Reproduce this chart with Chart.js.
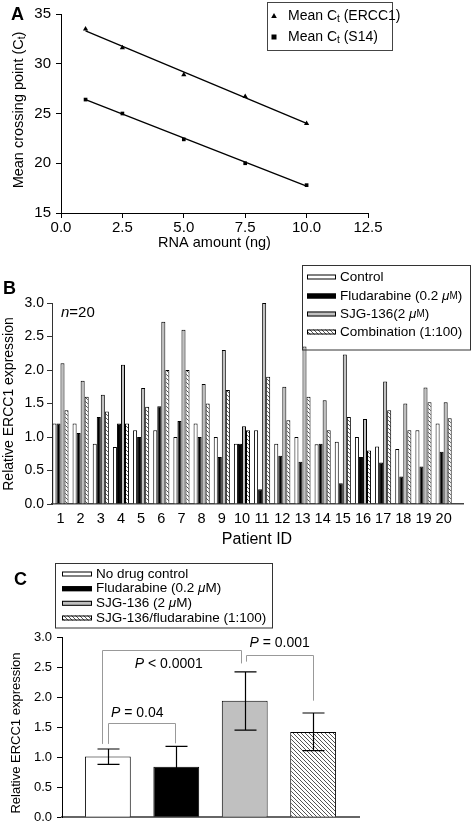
<!DOCTYPE html>
<html>
<head>
<meta charset="utf-8">
<script src="https://cdn.jsdelivr.net/npm/chart.js@4/dist/chart.umd.min.js"></script>
<style>
  body { margin: 0; background: #fff; }
  #wrap { position: relative; width: 472px; height: 830px; }
  canvas { position: absolute; left: 0; top: 0; }
</style>
</head>
<body>
<div id="wrap">
  <canvas id="chartA" width="472" height="830"></canvas>
  <canvas id="chartB" width="472" height="830"></canvas>
  <canvas id="chartC" width="472" height="830"></canvas>
</div>
<script>
// panel A - standard curves
const rnaAmounts = [1, 2.5, 5, 7.5, 10];
const ctErcc1 = [33.5, 31.6, 28.9, 26.7, 24.0];
const ctS14 = [26.4, 25.0, 22.4, 20.0, 17.8];
const fitX = [1, 10];
const fitErcc1 = [33.3, 24.0];
const fitS14 = [26.4, 17.7];

// panel B - per patient expression
const patients = [1, 2, 3, 4, 5, 6, 7, 8, 9, 10, 11, 12, 13, 14, 15, 16, 17, 18, 19, 20];
const control = [1.2, 1.2, 0.9, 0.85, 1.1, 1.1, 1.0, 1.2, 1.0, 0.9, 1.1, 0.9, 1.0, 0.89, 0.93, 1.0, 0.86, 0.82, 1.1, 1.2];
const fludarabine = [1.2, 1.06, 1.3, 1.2, 1.0, 1.46, 1.24, 1.0, 0.7, 0.9, 0.22, 0.72, 0.63, 0.9, 0.31, 0.7, 0.62, 0.41, 0.56, 0.78];
const sjg136 = [2.1, 1.84, 1.63, 2.08, 1.73, 2.72, 2.6, 1.79, 2.3, 1.16, 3.0, 1.75, 2.35, 1.55, 2.23, 1.27, 1.83, 1.5, 1.74, 1.52];
const combination = [1.4, 1.6, 1.38, 1.2, 1.45, 2.0, 2.0, 1.5, 1.7, 1.1, 1.9, 1.25, 1.6, 1.1, 1.3, 0.8, 1.4, 1.1, 1.52, 1.28];

// panel C - means with error bars
const groupsC = [1, 2, 3, 4];
const meanC = [1.01, 0.84, 1.94, 1.42];
const errLowC = [0.88, 0.5, 1.45, 1.11];
const errHighC = [1.135, 1.18, 2.42, 1.735];

const FF = '"Liberation Sans", Arial, Helvetica, sans-serif';
const font = (size, style) => `${style || ''} ${size}px ${FF}`;
Chart.defaults.font.family = FF;
Chart.defaults.color = '#000';

const GRAY = '#c0c0c0';

function makeHatch(size, color) {
  const c = document.createElement('canvas');
  c.width = c.height = size;
  const g = c.getContext('2d');
  g.fillStyle = '#fff';
  g.fillRect(0, 0, size, size);
  g.strokeStyle = color;
  g.lineWidth = 1;
  g.beginPath();
  g.moveTo(0, 0); g.lineTo(size, size);
  g.moveTo(-1, size - 1); g.lineTo(1, size + 1);
  g.moveTo(size - 1, -1); g.lineTo(size + 1, 1);
  g.stroke();
  return g.createPattern(c, 'repeat');
}
const hatch = makeHatch(4, '#555');

// draws text made of parts [text, font, dy]
function rich(ctx, x, y, parts, align) {
  let w = 0;
  parts.forEach((p) => { ctx.font = p[1]; w += ctx.measureText(p[0]).width; });
  let cx = align === 'center' ? x - w / 2 : x;
  ctx.textAlign = 'left';
  ctx.textBaseline = 'middle';
  ctx.fillStyle = '#000';
  parts.forEach((p) => {
    ctx.font = p[1];
    ctx.fillText(p[0], cx, y + (p[2] || 0));
    cx += ctx.measureText(p[0]).width;
  });
}

function rotated(ctx, cx, cy, parts) {
  ctx.save();
  ctx.translate(cx, cy);
  ctx.rotate(-Math.PI / 2);
  rich(ctx, 0, 0, parts, 'center');
  ctx.restore();
}

function swatch(ctx, x, y, w, h, fill) {
  ctx.fillStyle = fill;
  ctx.fillRect(x, y - h / 2, w, h);
  ctx.strokeStyle = '#000';
  ctx.lineWidth = 1;
  ctx.strokeRect(x + 0.5, y - h / 2 + 0.5, w - 1, h - 1);
}

const baseOptions = {
  responsive: false,
  animation: false,
  events: [],
  plugins: { legend: { display: false }, tooltip: { enabled: false } },
};

function tickAxis(color, size, padding) {
  return {
    border: { color: color, width: 1 },
    grid: { drawOnChartArea: false, drawTicks: true, tickLength: 5, tickColor: color },
    ticks: { font: { size: size }, padding: padding, color: '#000', maxRotation: 0 },
  };
}

// ---------- panel A ----------
const textA = {
  id: 'textA',
  afterDraw(chart) {
    const ctx = chart.ctx;
    rich(ctx, 11, 15, [['A', font(18, 'bold')]]);
    rotated(ctx, 19, 110, [['Mean crossing point (C', font(14.5)], ['t', font(10), 3], [')', font(14.5)]]);
    rich(ctx, 214.5, 243, [['RNA amount (ng)', font(14.5)]], 'center');
    ctx.strokeStyle = '#444';
    ctx.lineWidth = 1;
    ctx.strokeRect(267.5, 2.5, 125, 48);
    ctx.fillStyle = '#000';
    ctx.beginPath();
    ctx.moveTo(274, 13); ctx.lineTo(276.8, 18); ctx.lineTo(271.2, 18); ctx.closePath();
    ctx.fill();
    ctx.fillRect(271.5, 34.5, 5, 5);
    rich(ctx, 288, 16, [['Mean C', font(14)], ['t', font(10), 3], [' (ERCC1)', font(14)]]);
    rich(ctx, 288, 37, [['Mean C', font(14)], ['t', font(10), 3], [' (S14)', font(14)]]);
  },
};

const axA = tickAxis('#000', 15, 1);
const ayA = tickAxis('#000', 15, 5);
new Chart(document.getElementById('chartA'), {
  type: 'scatter',
  data: {
    datasets: [
      { data: rnaAmounts.map((x, i) => ({ x: x, y: ctErcc1[i] })), pointStyle: 'triangle', pointRadius: 3, backgroundColor: '#000', borderColor: '#000', borderWidth: 0 },
      { data: rnaAmounts.map((x, i) => ({ x: x, y: ctS14[i] })), pointStyle: 'rect', pointRadius: 2.6, backgroundColor: '#000', borderColor: '#000', borderWidth: 0 },
      { data: fitX.map((x, i) => ({ x: x, y: fitErcc1[i] })), showLine: true, pointRadius: 0, borderColor: '#000', borderWidth: 1.3 },
      { data: fitX.map((x, i) => ({ x: x, y: fitS14[i] })), showLine: true, pointRadius: 0, borderColor: '#000', borderWidth: 1.3 },
    ],
  },
  options: {
    ...baseOptions,
    layout: { padding: { left: 0, top: 9, right: 104, bottom: 587 } },
    scales: {
      x: { ...axA, type: 'linear', min: 0, max: 12.5, afterFit: (s) => { s.height = 30; },
        ticks: { ...axA.ticks, stepSize: 2.5, callback: (v) => v.toFixed(1) } },
      y: { ...ayA, type: 'linear', min: 15, max: 35, afterFit: (s) => { s.width = 61; },
        ticks: { ...ayA.ticks, stepSize: 5 } },
    },
  },
  plugins: [textA],
});

// ---------- panel B ----------
const textB = {
  id: 'textB',
  afterDraw(chart) {
    const ctx = chart.ctx;
    rich(ctx, 3, 289, [['B', font(18, 'bold')]]);
    rotated(ctx, 9.5, 404, [['Relative ERCC1 expression', font(14)]]);
    rich(ctx, 257, 540, [['Patient ID', font(16)]], 'center');
    rich(ctx, 61, 313, [['n', font(15, 'italic')], ['=20', font(15)]]);
    ctx.strokeStyle = '#333';
    ctx.lineWidth = 1;
    ctx.strokeRect(302.5, 265.5, 168, 84.5);
    const rows = [277, 296, 314, 332];
    const fills = ['#fff', '#000', GRAY, hatch];
    const labels = [
      [['Control', font(13.5)]],
      [['Fludarabine (0.2 ', font(13.5)], ['\u03bc', font(13.5, 'italic')], ['M', font(10)], [')', font(13.5)]],
      [['SJG-136(2 ', font(13.5)], ['\u03bc', font(13.5, 'italic')], ['M', font(10)], [')', font(13.5)]],
      [['Combination (1:100)', font(13.5)]],
    ];
    rows.forEach((y, i) => {
      swatch(ctx, 307, y, 29, 5, fills[i]);
      rich(ctx, 340, y, labels[i]);
    });
  },
};

const axB = tickAxis('#444', 14.5, 6);
const ayB = tickAxis('#333', 14, 3);
const barStyle = { borderColor: '#000', borderWidth: 1, borderSkipped: 'start' };
new Chart(document.getElementById('chartB'), {
  type: 'bar',
  data: {
    datasets: [
      { ...barStyle, data: patients.map((p, i) => ({ x: p, y: control[i] })), backgroundColor: '#fff' },
      { ...barStyle, data: patients.map((p, i) => ({ x: p, y: fludarabine[i] })), backgroundColor: '#000' },
      { ...barStyle, data: patients.map((p, i) => ({ x: p, y: sjg136[i] })), backgroundColor: GRAY },
      { ...barStyle, data: patients.map((p, i) => ({ x: p, y: combination[i] })), backgroundColor: hatch },
    ],
  },
  options: {
    ...baseOptions,
    categoryPercentage: 0.8,
    barPercentage: 1,
    layout: { padding: { left: 0, top: 303, right: 9, bottom: 296 } },
    scales: {
      x: { ...axB, type: 'linear', offset: false, min: 0.58, max: 20.96,
        border: { color: '#444', width: 1.5 },
        grid: { drawOnChartArea: false, drawTicks: false, offset: false },
        afterFit: (s) => { s.height = 30; },
        afterBuildTicks: (s) => { s.ticks = patients.map((v) => ({ value: v })); },
        ticks: { ...axB.ticks, callback: (v) => String(v) } },
      y: { ...ayB, type: 'linear', min: 0, max: 3, afterFit: (s) => { s.width = 52; },
        ticks: { ...ayB.ticks, stepSize: 0.5, callback: (v) => v.toFixed(1) } },
    },
  },
  plugins: [textB],
});

// ---------- panel C ----------
const brackets = [
  { x0: 1.0, x1: 1.98, top: 1.57, y0: 1.22, y1: 1.23 },
  { x0: 0.92, x1: 2.94, top: 2.78, y0: 1.22, y1: 2.56 },
  { x0: 3.02, x1: 4.0, top: 2.70, y0: 2.59, y1: 1.94 },
];
const pLabels = [
  { x: 1.43, y: 1.74, op: ' = 0.04' },
  { x: 1.89, y: 2.55, op: ' < 0.0001' },
  { x: 3.51, y: 2.90, op: ' = 0.001' },
];

const textC = {
  id: 'textC',
  afterDraw(chart) {
    const ctx = chart.ctx;
    const xs = chart.scales.x;
    const ys = chart.scales.y;
    rich(ctx, 14, 580, [['C', font(18, 'bold')]]);
    rotated(ctx, 16, 733, [['Relative ERCC1 expression', font(13)]]);

    // error bars
    ctx.strokeStyle = '#000';
    ctx.lineWidth = 1.2;
    meanC.forEach((m, i) => {
      const px = Math.round(xs.getPixelForValue(groupsC[i])) + 0.5;
      const lo = ys.getPixelForValue(errLowC[i]);
      const hi = ys.getPixelForValue(errHighC[i]);
      ctx.beginPath();
      ctx.moveTo(px, lo); ctx.lineTo(px, hi);
      ctx.moveTo(px - 11, lo); ctx.lineTo(px + 11, lo);
      ctx.moveTo(px - 11, hi); ctx.lineTo(px + 11, hi);
      ctx.stroke();
    });

    // significance brackets
    ctx.strokeStyle = '#999';
    ctx.lineWidth = 1;
    brackets.forEach((b) => {
      const x0 = Math.round(xs.getPixelForValue(b.x0)) + 0.5;
      const x1 = Math.round(xs.getPixelForValue(b.x1)) + 0.5;
      const t = Math.round(ys.getPixelForValue(b.top)) + 0.5;
      ctx.beginPath();
      ctx.moveTo(x0, ys.getPixelForValue(b.y0));
      ctx.lineTo(x0, t);
      ctx.lineTo(x1, t);
      ctx.lineTo(x1, ys.getPixelForValue(b.y1));
      ctx.stroke();
    });
    pLabels.forEach((l) => {
      rich(ctx, xs.getPixelForValue(l.x), ys.getPixelForValue(l.y),
        [['P', font(14, 'italic')], [l.op, font(14)]], 'center');
    });

    // legend
    ctx.strokeStyle = '#333';
    ctx.lineWidth = 1;
    ctx.strokeRect(55.5, 563.5, 217, 64.5);
    const rows = [574, 588.7, 603.3, 618];
    const fills = ['#fff', '#000', GRAY, hatch];
    const labels = [
      [['No drug control', font(13.5)]],
      [['Fludarabine (0.2 ', font(13.5)], ['\u03bc', font(13.5, 'italic')], ['M)', font(13.5)]],
      [['SJG-136 (2 ', font(13.5)], ['\u03bc', font(13.5, 'italic')], ['M)', font(13.5)]],
      [['SJG-136/fludarabine (1:100)', font(13.5)]],
    ];
    rows.forEach((y, i) => {
      swatch(ctx, 62, y, 30, 5, fills[i]);
      rich(ctx, 96, y, labels[i]);
    });
  },
};

const ayC = tickAxis('#000', 13, 5);
new Chart(document.getElementById('chartC'), {
  type: 'bar',
  data: {
    datasets: [
      { ...barStyle, data: groupsC.map((g, i) => ({ x: g, y: meanC[i] })),
        backgroundColor: ['#fff', '#000', GRAY, hatch] },
    ],
  },
  options: {
    ...baseOptions,
    categoryPercentage: 1,
    barPercentage: 0.67,
    layout: { padding: { left: 0, top: 637, right: 113, bottom: 4 } },
    scales: {
      x: { type: 'linear', offset: false, min: 0.33, max: 4.67,
        border: { color: '#666', width: 2 },
        grid: { drawOnChartArea: false, drawTicks: false, offset: false },
        ticks: { display: false },
        afterBuildTicks: (s) => { s.ticks = groupsC.map((v) => ({ value: v })); },
        afterFit: (s) => { s.height = 4; } },
      y: { ...ayC, type: 'linear', min: 0, max: 3, afterFit: (s) => { s.width = 62; },
        ticks: { ...ayC.ticks, stepSize: 0.5, callback: (v) => v.toFixed(1) } },
    },
  },
  plugins: [textC],
});
</script>
</body>
</html>
